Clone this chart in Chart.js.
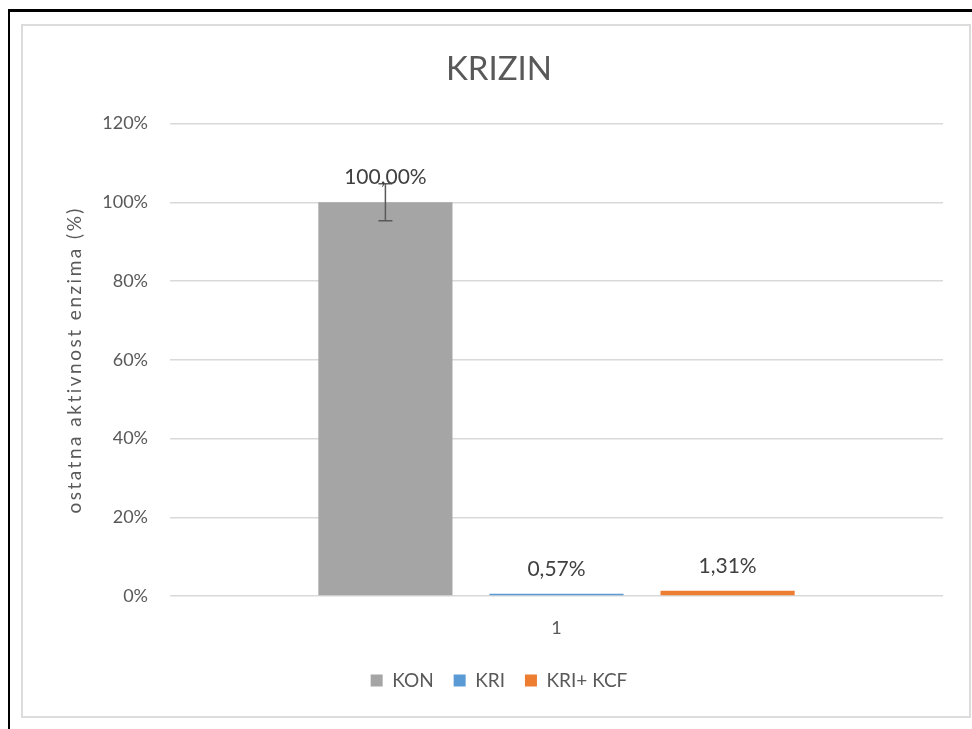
<!DOCTYPE html>
<html>
<head>
<meta charset="utf-8">
<script src="https://cdn.jsdelivr.net/npm/chart.js@4/dist/chart.umd.min.js"></script>
<style>
    html, body { margin: 0; padding: 0; background: #fff; }
    #frame {
        position: absolute; left: 8px; top: 9px; width: 980px; height: 740px;
        border-top: 3px solid #000; border-left: 2px solid #000;
    }
    #box {
        position: absolute; left: 21px; top: 24px; width: 946px; height: 690px;
        border: 2px solid #dcdcdc;
    }
    #wrap { position: absolute; left: 0; top: 0; width: 972px; height: 729px; }
</style>
</head>
<body>
<div id="frame"></div>
<div id="box"></div>
<div id="wrap"><canvas id="chart" width="972" height="729"></canvas></div>
<script>
const categories = ['1'];
const seriesNames = ['KON', 'KRI', 'KRI+ KCF'];
const seriesValues = [[100], [0.57], [1.31]];
const seriesErrors = [[4.7], [0], [0]];
const seriesColors = ['#a5a5a5', '#5b9bd5', '#ed7d31'];
const yTicks = [0, 20, 40, 60, 80, 100, 120];
const yTitle = 'ostatna aktivnost enzima (%)';

const font = 'Lato, "Open Sans", sans-serif';

function fmtPercent(v) {
    return v.toFixed(2).replace('.', ',') + '%';
}

// error bars drawn from the dataset's error values through the y scale
const errorBars = {
    id: 'errorBars',
    afterDatasetsDraw(chart) {
        const ctx = chart.ctx;
        const y = chart.scales.y;
        chart.data.datasets.forEach((ds, i) => {
            const meta = chart.getDatasetMeta(i);
            meta.data.forEach((bar, j) => {
                const err = ds.errors[j];
                if (!err) return;
                const top = y.getPixelForValue(ds.data[j] + err);
                const bottom = y.getPixelForValue(ds.data[j] - err);
                ctx.save();
                ctx.strokeStyle = '#595959';
                ctx.lineWidth = 1.5;
                ctx.beginPath();
                ctx.moveTo(bar.x, top);
                ctx.lineTo(bar.x, bottom);
                ctx.moveTo(bar.x - 7, top);
                ctx.lineTo(bar.x + 7, top);
                ctx.moveTo(bar.x - 7, bottom);
                ctx.lineTo(bar.x + 7, bottom);
                ctx.stroke();
                ctx.restore();
            });
        });
    }
};

// value labels above each bar
const valueLabels = {
    id: 'valueLabels',
    afterDatasetsDraw(chart) {
        const ctx = chart.ctx;
        ctx.save();
        ctx.font = '21px ' + font;
        ctx.fillStyle = '#404040';
        ctx.textAlign = 'center';
        ctx.textBaseline = 'middle';
        chart.data.datasets.forEach((ds, i) => {
            chart.getDatasetMeta(i).data.forEach((bar, j) => {
                ctx.fillText(fmtPercent(ds.data[j]), bar.x, bar.y - 25);
            });
        });
        ctx.restore();
    }
};

// rotated y axis title, spaced out a little
const yAxisTitle = {
    id: 'yAxisTitle',
    afterDraw(chart) {
        const ctx = chart.ctx;
        const area = chart.chartArea;
        ctx.save();
        ctx.translate(75, (area.top + area.bottom) / 2);
        ctx.rotate(-Math.PI / 2);
        ctx.font = '19px ' + font;
        ctx.letterSpacing = '2.5px';
        ctx.fillStyle = '#595959';
        ctx.textAlign = 'center';
        ctx.textBaseline = 'middle';
        ctx.fillText(yTitle, 0, 0);
        ctx.restore();
    }
};

new Chart(document.getElementById('chart'), {
    type: 'bar',
    data: {
        labels: categories,
        datasets: seriesNames.map((name, i) => ({
            label: name,
            data: seriesValues[i],
            errors: seriesErrors[i],
            backgroundColor: seriesColors[i],
            borderWidth: 0,
            categoryPercentage: 0.664,
            barPercentage: 0.784
        }))
    },
    options: {
        responsive: false,
        animation: false,
        layout: { padding: { left: 55, right: 29, top: 44, bottom: 29 } },
        plugins: {
            title: {
                display: true,
                text: 'KRIZIN',
                color: '#595959',
                font: { family: font, size: 33, weight: 'normal' },
                padding: { top: 6, bottom: 34 }
            },
            legend: {
                position: 'bottom',
                labels: {
                    color: '#595959',
                    font: { family: font, size: 19 },
                    boxWidth: 12,
                    boxHeight: 12,
                    padding: 20
                }
            },
            tooltip: { enabled: false }
        },
        scales: {
            x: {
                grid: { display: false, drawTicks: false },
                border: { display: false },
                ticks: { color: '#595959', font: { family: font, size: 18 }, padding: 21 },
                afterFit(scale) { scale.height = 55; }
            },
            y: {
                min: 0,
                max: 120,
                afterBuildTicks(scale) { scale.ticks = yTicks.map(v => ({ value: v })); },
                grid: { color: '#d9d9d9', lineWidth: 1.5, drawTicks: false },
                border: { display: false },
                ticks: {
                    color: '#595959',
                    font: { family: font, size: 18 },
                    padding: 22,
                    callback: v => v + '%'
                },
                afterFit(scale) { scale.width = 115; }
            }
        }
    },
    plugins: [errorBars, valueLabels, yAxisTitle]
});
</script>
</body>
</html>
